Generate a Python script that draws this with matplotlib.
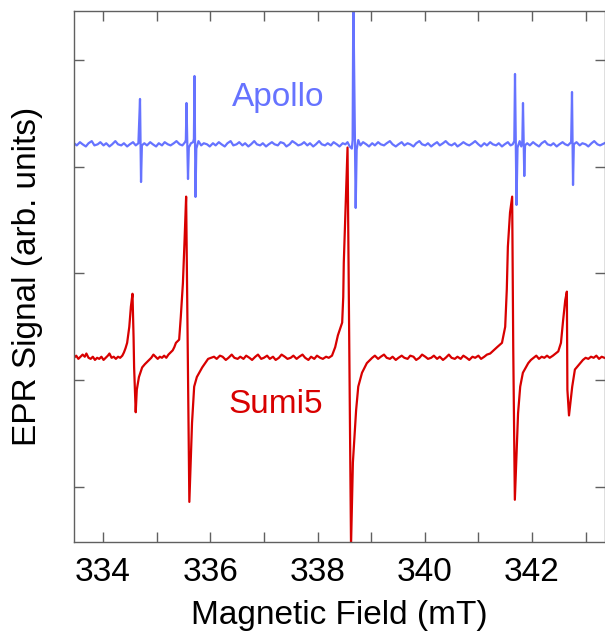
import numpy as np
import matplotlib.pyplot as plt
from matplotlib.ticker import MultipleLocator

plt.rcParams['font.family'] = ['Liberation Sans', 'DejaVu Sans']

# espectros EPR: (campo en mT, señal en unidades arbitrarias)
sumi5_trace = [
    (333.46, 1.21), (333.50, 1.23), (333.54, 1.20), (333.58, 1.22), (333.62, 1.24),
    (333.66, 1.22), (333.69, 1.25), (333.73, 1.21), (333.77, 1.20), (333.81, 1.22),
    (333.85, 1.19), (333.89, 1.21), (333.93, 1.20), (333.97, 1.22), (334.01, 1.19),
    (334.05, 1.21), (334.09, 1.23), (334.12, 1.25), (334.16, 1.21), (334.20, 1.22),
    (334.24, 1.20), (334.28, 1.22), (334.32, 1.21), (334.36, 1.23), (334.39, 1.26),
    (334.42, 1.30), (334.45, 1.35), (334.49, 1.50), (334.52, 1.69), (334.55, 1.81),
    (334.57, 1.40), (334.58, 1.12), (334.61, 0.70), (334.63, 0.91), (334.67, 1.03),
    (334.73, 1.12), (334.78, 1.15), (334.82, 1.17), (334.86, 1.19), (334.90, 1.21),
    (334.94, 1.24), (334.98, 1.22), (335.02, 1.20), (335.06, 1.22), (335.10, 1.21),
    (335.14, 1.23), (335.18, 1.21), (335.22, 1.24), (335.26, 1.26), (335.30, 1.28),
    (335.33, 1.31), (335.36, 1.35), (335.42, 1.38), (335.45, 1.59), (335.49, 1.91),
    (335.52, 2.30), (335.55, 2.72), (335.61, -0.14), (335.66, 0.60), (335.70, 0.94),
    (335.75, 1.03), (335.85, 1.12), (335.96, 1.20), (336.07, 1.22), (336.12, 1.20),
    (336.18, 1.23), (336.23, 1.22), (336.29, 1.19), (336.34, 1.21), (336.40, 1.24),
    (336.45, 1.21), (336.51, 1.20), (336.56, 1.22), (336.62, 1.20), (336.67, 1.23),
    (336.73, 1.21), (336.78, 1.19), (336.84, 1.22), (336.89, 1.24), (336.95, 1.20),
    (337.00, 1.21), (337.06, 1.23), (337.11, 1.20), (337.17, 1.22), (337.22, 1.19),
    (337.28, 1.21), (337.33, 1.24), (337.39, 1.22), (337.44, 1.20), (337.50, 1.21),
    (337.55, 1.23), (337.61, 1.20), (337.66, 1.22), (337.72, 1.24), (337.77, 1.21),
    (337.83, 1.19), (337.88, 1.22), (337.94, 1.20), (337.99, 1.23), (338.05, 1.21),
    (338.10, 1.20), (338.16, 1.22), (338.21, 1.21), (338.27, 1.23), (338.33, 1.31),
    (338.38, 1.42), (338.46, 1.54), (338.48, 1.78), (338.49, 2.10), (338.53, 2.72),
    (338.56, 3.18), (338.625, -0.55), (338.66, 0.23), (338.72, 0.72), (338.76, 0.94),
    (338.83, 1.07), (338.92, 1.16), (339.02, 1.21), (339.07, 1.23), (339.13, 1.20),
    (339.18, 1.22), (339.24, 1.24), (339.29, 1.21), (339.35, 1.20), (339.40, 1.22),
    (339.46, 1.19), (339.51, 1.21), (339.57, 1.23), (339.62, 1.21), (339.68, 1.20),
    (339.73, 1.23), (339.79, 1.22), (339.84, 1.19), (339.90, 1.21), (339.95, 1.24),
    (340.01, 1.22), (340.06, 1.20), (340.12, 1.21), (340.17, 1.23), (340.23, 1.20),
    (340.28, 1.22), (340.34, 1.19), (340.39, 1.21), (340.45, 1.24), (340.50, 1.21),
    (340.56, 1.20), (340.61, 1.22), (340.67, 1.20), (340.72, 1.23), (340.78, 1.21),
    (340.83, 1.19), (340.89, 1.22), (340.94, 1.21), (341.00, 1.23), (341.05, 1.20),
    (341.11, 1.22), (341.16, 1.24), (341.22, 1.25), (341.35, 1.31), (341.44, 1.35),
    (341.50, 1.50), (341.53, 1.85), (341.55, 2.25), (341.59, 2.57), (341.63, 2.72),
    (341.65, 1.31), (341.68, -0.12), (341.74, 0.69), (341.78, 0.94), (341.83, 1.07),
    (341.93, 1.16), (341.98, 1.19), (342.03, 1.21), (342.08, 1.23), (342.13, 1.20),
    (342.18, 1.22), (342.23, 1.21), (342.28, 1.23), (342.33, 1.21), (342.39, 1.23),
    (342.44, 1.25), (342.49, 1.27), (342.54, 1.35), (342.58, 1.56), (342.62, 1.75),
    (342.65, 1.83), (342.66, 0.91), (342.69, 0.67), (342.75, 0.94), (342.80, 1.10),
    (342.90, 1.16), (342.95, 1.19), (343.00, 1.21), (343.05, 1.20), (343.10, 1.22),
    (343.15, 1.21), (343.20, 1.23), (343.25, 1.20), (343.30, 1.22), (343.35, 1.21),
]

apollo_trace = [
    (333.46, 3.22), (333.51, 3.20), (333.57, 3.23), (333.62, 3.21), (333.68, 3.19),
    (333.73, 3.22), (333.79, 3.24), (333.84, 3.20), (333.90, 3.21), (333.95, 3.23),
    (334.01, 3.20), (334.06, 3.22), (334.12, 3.19), (334.17, 3.21), (334.23, 3.24),
    (334.28, 3.21), (334.34, 3.20), (334.39, 3.22), (334.45, 3.19), (334.50, 3.21),
    (334.56, 3.23), (334.61, 3.20), (334.66, 3.22), (334.690, 3.635), (334.709, 2.857),
    (334.725, 3.20), (334.77, 3.22), (334.82, 3.20), (334.88, 3.23), (334.93, 3.21),
    (334.99, 3.19), (335.04, 3.22), (335.10, 3.20), (335.15, 3.23), (335.21, 3.21),
    (335.26, 3.20), (335.32, 3.22), (335.37, 3.24), (335.43, 3.21), (335.48, 3.20),
    (335.53, 3.23), (335.545, 3.25), (335.557, 3.597), (335.585, 2.885), (335.60, 3.18),
    (335.64, 3.22), (335.68, 3.23), (335.695, 3.26), (335.706, 3.850), (335.725, 2.717),
    (335.74, 3.17), (335.78, 3.24), (335.83, 3.20), (335.88, 3.22), (335.94, 3.21),
    (335.99, 3.19), (336.05, 3.22), (336.10, 3.20), (336.16, 3.23), (336.21, 3.21),
    (336.27, 3.19), (336.32, 3.22), (336.38, 3.24), (336.43, 3.20), (336.49, 3.21),
    (336.54, 3.23), (336.60, 3.20), (336.65, 3.22), (336.71, 3.19), (336.76, 3.21),
    (336.82, 3.24), (336.87, 3.21), (336.93, 3.20), (336.98, 3.22), (337.04, 3.19),
    (337.09, 3.21), (337.15, 3.23), (337.20, 3.21), (337.26, 3.20), (337.31, 3.23),
    (337.37, 3.22), (337.42, 3.19), (337.48, 3.21), (337.53, 3.24), (337.59, 3.22),
    (337.64, 3.20), (337.70, 3.21), (337.75, 3.23), (337.81, 3.20), (337.86, 3.22),
    (337.92, 3.19), (337.97, 3.21), (338.03, 3.24), (338.08, 3.21), (338.14, 3.20),
    (338.19, 3.22), (338.25, 3.20), (338.30, 3.23), (338.36, 3.21), (338.41, 3.19),
    (338.47, 3.22), (338.52, 3.21), (338.56, 3.23), (338.60, 3.19), (338.64, 3.17),
    (338.655, 3.25), (338.668, 4.60), (338.712, 2.614), (338.73, 3.16), (338.76, 3.25),
    (338.80, 3.20), (338.85, 3.23), (338.91, 3.21), (338.96, 3.19), (339.02, 3.22),
    (339.07, 3.20), (339.13, 3.23), (339.18, 3.21), (339.24, 3.20), (339.29, 3.22),
    (339.35, 3.24), (339.40, 3.21), (339.46, 3.19), (339.51, 3.21), (339.57, 3.23),
    (339.62, 3.20), (339.68, 3.22), (339.73, 3.21), (339.79, 3.19), (339.84, 3.22),
    (339.90, 3.24), (339.95, 3.21), (340.01, 3.20), (340.06, 3.22), (340.12, 3.19),
    (340.17, 3.21), (340.23, 3.23), (340.28, 3.20), (340.34, 3.22), (340.39, 3.24),
    (340.45, 3.21), (340.50, 3.20), (340.56, 3.22), (340.61, 3.19), (340.67, 3.21),
    (340.72, 3.23), (340.78, 3.21), (340.83, 3.20), (340.89, 3.22), (340.94, 3.24),
    (341.00, 3.21), (341.05, 3.19), (341.11, 3.22), (341.16, 3.20), (341.22, 3.23),
    (341.27, 3.21), (341.33, 3.20), (341.38, 3.22), (341.44, 3.19), (341.49, 3.21),
    (341.55, 3.23), (341.60, 3.20), (341.64, 3.21), (341.67, 3.24), (341.683, 3.869),
    (341.711, 2.642), (341.73, 3.18), (341.77, 3.24), (341.80, 3.19), (341.82, 3.24),
    (341.832, 3.597), (341.856, 2.913), (341.87, 3.20), (341.91, 3.22), (341.96, 3.20),
    (342.02, 3.23), (342.07, 3.21), (342.13, 3.19), (342.18, 3.22), (342.24, 3.24),
    (342.29, 3.21), (342.35, 3.20), (342.40, 3.22), (342.46, 3.19), (342.51, 3.21),
    (342.57, 3.23), (342.62, 3.21), (342.67, 3.20), (342.71, 3.22), (342.73, 3.23),
    (342.746, 3.700), (342.765, 2.829), (342.78, 3.21), (342.83, 3.23), (342.89, 3.20),
    (342.94, 3.22), (343.00, 3.21), (343.05, 3.19), (343.11, 3.22), (343.16, 3.24),
    (343.22, 3.21), (343.27, 3.20), (343.35, 3.22),
]

rojo = "#d80000"
azul = "#6673ff"

sumi5 = np.array(sumi5_trace)
apollo = np.array(apollo_trace)

fig = plt.figure(figsize=(6.05, 6.31), dpi=100)
ax = fig.add_axes([74 / 605, 1 - 541.5 / 631, 530.5 / 605, 530.5 / 631])

ax.plot(sumi5[:, 0], sumi5[:, 1], color=rojo, lw=1.6)
ax.plot(apollo[:, 0], apollo[:, 1], color=azul, lw=1.6)

ax.text(336.41, 3.57, "Apollo", color=azul, fontsize=24)
ax.text(336.33, 0.69, "Sumi5", color=rojo, fontsize=24)

ax.set_xlim(333.459, 343.352)
ax.set_ylim(-0.511, 4.459)

ax.xaxis.set_major_locator(MultipleLocator(2))
ax.xaxis.set_minor_locator(MultipleLocator(1))
ax.yaxis.set_major_locator(MultipleLocator(1))

ax.tick_params(which="both", direction="in", length=7, width=1,
               color="#606060", top=True, right=True)
ax.tick_params(axis="x", labelsize=24, pad=11)
ax.tick_params(axis="y", labelleft=False)

for lado in ax.spines.values():
    lado.set_color("#606060")
    lado.set_linewidth(1)

ax.set_xlabel("Magnetic Field (mT)", fontsize=24, labelpad=9)
ax.set_ylabel("EPR Signal (arb. units)", fontsize=24)
ax.yaxis.set_label_coords(-0.058, 0.5)

fig.savefig("out.png", dpi=100)
